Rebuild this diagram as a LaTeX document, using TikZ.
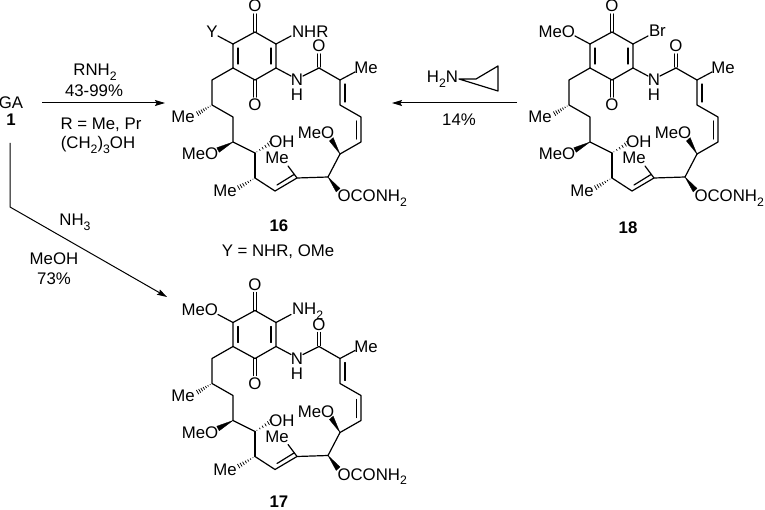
\documentclass[tikz,border=0pt]{standalone}
\usepackage{fontspec}
\setmainfont{Liberation Sans}
\usetikzlibrary{arrows.meta,calc}
\newcommand{\sbs}[1]{\raisebox{-0.28em}{\fontsize{9.2}{9.2}\selectfont #1}}
\tikzset{
  x=0.75pt,y=-0.75pt,
  bond/.style={line width=0.9pt,line cap=round,line join=round,black},
  rxn/.style={line width=0.75pt,black,-{Stealth[length=7.5pt,width=4.5pt,inset=1.2pt]}},
  lab/.style={inner sep=0pt,outer sep=0pt,font=\fontsize{12.6}{14}\selectfont,text=black},
  num/.style={lab,font=\fontsize{12.6}{14}\selectfont\bfseries},
  wedgeb/.style={fill=black,draw=black,line width=0.2pt,line join=round},
  pics/gamol/.style={code={
    % ring
    \coordinate (rt) at (255,32);  \coordinate (rur) at (276,44);
    \coordinate (rlr) at (276,68); \coordinate (rb) at (255,80);
    \coordinate (rll) at (233,68); \coordinate (rul) at (233,44);
    \draw[bond] (rt)--(rur)--(rlr)--(rb)--(rll)--(rul)--cycle;
    \coordinate (i1) at (238,48); \coordinate (i2) at (238,64);
    \coordinate (i3) at (271,48); \coordinate (i4) at (271,64);
    \draw[bond] (i1)--(i2) (i3)--(i4);
    % quinone C=O
    \node[lab] (otop) at (255,6) {O};
    \node[lab] (obot) at (255,105) {O};
    \coordinate (o1a) at (253.5,32); \coordinate (o1b) at (253.5,14);
    \coordinate (o2a) at (256.5,32); \coordinate (o2b) at (256.5,14);
    \draw[bond] (o1a)--(o1b) (o2a)--(o2b);
    \coordinate (o3a) at (253.5,80); \coordinate (o3b) at (253.5,97);
    \coordinate (o4a) at (256.5,80); \coordinate (o4b) at (256.5,97);
    \draw[bond] (o3a)--(o3b) (o4a)--(o4b);
    % amide
    \node[lab] (nn) at (297,80) {N};
    \node[lab] (nh) at (297,95) {H};
    \coordinate (nl) at (291,76); \coordinate (nr) at (303,76);
    \draw[bond] (rlr)--(nl) (nr)--(319,68) coordinate (co);
    \node[lab] (oam) at (319,46) {O};
    \coordinate (c1a) at (317.5,67); \coordinate (c1b) at (317.5,54);
    \coordinate (c2a) at (320.5,67); \coordinate (c2b) at (320.5,54);
    \draw[bond] (c1a)--(c1b) (c2a)--(c2b);
    % diene
    \coordinate (ca) at (340,80); \coordinate (cb) at (340,105);
    \coordinate (cc) at (361,117); \coordinate (cd) at (361,142);
    \coordinate (ce) at (340,154);
    \node[lab] (me1) at (366,68) {Me};
    \coordinate (me1e) at (355,72);
    \draw[bond] (co)--(ca)--(cb)--(cc)--(cd)--(ce) (ca)--(me1e);
    \coordinate (d1a) at (345,84); \coordinate (d1b) at (345,102);
    \coordinate (d2a) at (356.5,121); \coordinate (d2b) at (356.5,139);
    \draw[bond] (d1a)--(d1b) (d2a)--(d2b);
    % MeO wedge at ce
    \node[lab] (meo1) at (316,133) {MeO};
    \coordinate (w1) at (331,139);
    \fill[wedgeb] (ce)--($(w1)+(2.2,-1.4)$)--($(w1)+(-1.6,2)$)--cycle;
    % C with carbamate
    \coordinate (cf) at (328,177);
    \draw[bond] (ce)--(cf);
    \node[lab,anchor=west] (carb) at (337.5,198) {OCONH\sbs{2}};
    \coordinate (w2) at (338,190);
    \fill[wedgeb] (cf)--($(w2)+(2,-1.6)$)--($(w2)+(-1.8,2)$)--cycle;
    % trisubstituted alkene
    \coordinate (cg) at (297,178); \coordinate (ch) at (275,191);
    \coordinate (ci) at (255,178);
    \draw[bond] (cf)--(cg)--(ch)--(ci);
    \coordinate (e1) at (294,174.5); \coordinate (e2) at (277,185);
    \draw[bond] (e1)--(e2);
    \node[lab] (me2) at (277,158) {Me};
    \coordinate (me2e) at (288,166);
    \draw[bond] (cg)--(me2e);
    % methyl hash at ci
    \node[lab] (me3) at (225,191) {Me};
    \coordinate (h3) at (238,188);
    \foreach \t/\w in {0.12/0.8,0.26/1.5,0.40/2.2,0.54/2.9,0.68/3.6,0.82/4.3,0.96/5.0}{
      \draw[line width=0.55pt] ($(ci)!\t!(h3)+(-0.25*\w,-0.43*\w)$)--($(ci)!\t!(h3)+(0.25*\w,0.43*\w)$);}
    % C-OH
    \coordinate (cj) at (255,153);
    \draw[bond] (ci)--(cj);
    \node[lab] (oh) at (282,142) {OH};
    \coordinate (h4) at (271,143);
    \foreach \t/\w in {0.12/0.8,0.30/1.6,0.48/2.4,0.66/3.2,0.84/4.0,0.98/4.8}{
      \draw[line width=0.55pt] ($(cj)!\t!(h4)+(-0.25*\w,-0.43*\w)$)--($(cj)!\t!(h4)+(0.25*\w,0.43*\w)$);}
    % C-OMe
    \coordinate (ck) at (233,142);
    \draw[bond] (cj)--(ck);
    \node[lab] (meo2) at (200,154) {MeO};
    \coordinate (w3) at (218,150);
    \fill[wedgeb] (ck)--($(w3)+(-1.2,-2.3)$)--($(w3)+(1.2,2.3)$)--cycle;
    % chain to ring
    \coordinate (cl) at (233,117); \coordinate (cm) at (212,105);
    \coordinate (cn) at (212,80);
    \draw[bond] (ck)--(cl)--(cm)--(cn)--(rll);
    \node[lab] (me4) at (183,117) {Me};
    \coordinate (h5) at (197,114);
    \foreach \t/\w in {0.12/0.8,0.26/1.5,0.40/2.2,0.54/2.9,0.68/3.6,0.82/4.3,0.96/5.0}{
      \draw[line width=0.55pt] ($(cm)!\t!(h5)+(-0.25*\w,-0.43*\w)$)--($(cm)!\t!(h5)+(0.25*\w,0.43*\w)$);}
    % substituent bond ends
    \coordinate (ysub) at (218,36);
    \coordinate (nsub) at (291,36);
    \draw[bond] (rul)--(ysub) (rur)--(nsub);
  }}
}
\begin{document}
\begin{tikzpicture}
\useasboundingbox (0,0) rectangle (765,510);
% molecules
\pic (a) at (0,0) {gamol};
\pic (b) at (357,0) {gamol};
\pic (c) at (0,278.5) {gamol};
% substituents
\node[lab] (y16) at (212,32) {Y};
\node[lab,anchor=west] (nhr) at (292,32) {NHR};
\node[lab,anchor=east] (meo18) at (575,32) {MeO};
\node[lab,anchor=west] (br18) at (649,31) {Br};
\node[lab,anchor=east] (meo17) at (218,310) {MeO};
\node[lab,anchor=west] (nh17) at (292,311) {NH\sbs{2}};
% compound labels
\node[num] (l16) at (279,226) {16};
\node[lab] (yeq) at (278,252) {Y = NHR, OMe};
\node[num] (l18) at (628,228) {18};
\node[num] (l17) at (279,502) {17};
\node[lab] (ga) at (11,103) {GA};
\node[num] (l1) at (11,120) {1};
% reaction 1
\coordinate (a1s) at (42,103); \coordinate (a1e) at (165,103);
\draw[rxn] (a1s)--(a1e);
\node[lab] (t1) at (95,72) {RNH\sbs{2}};
\node[lab] (t2) at (94,91) {43-99\%};
\node[lab] (t3) at (101,125) {R = Me, Pr};
\node[lab] (t4) at (98,145) {(CH\sbs{2})\sbs{3}OH};
% reaction 2
\coordinate (a2s) at (10,143); \coordinate (a2m) at (10,207); \coordinate (a2e) at (167,297);
\draw[rxn,line join=miter] (a2s)--(a2m)--(a2e);
\node[lab] (t5) at (75,222) {NH\sbs{3}};
\node[lab] (t6) at (54,259) {MeOH};
\node[lab] (t7) at (54,279) {73\%};
% reaction 3
\coordinate (a3s) at (517,103); \coordinate (a3e) at (392,103);
\draw[rxn] (a3s)--(a3e);
\node[lab,anchor=east] (h2n) at (458,79) {H\sbs{2}N};
\coordinate (cp1) at (476,79); \coordinate (cp2) at (498,66); \coordinate (cp3) at (498,91);
\coordinate (cp0) at (459,79);
\draw[bond] (cp0)--(cp1)--(cp2)--(cp3)--cycle;
\node[lab] (t8) at (459,120) {14\%};
\end{tikzpicture}
\end{document}
